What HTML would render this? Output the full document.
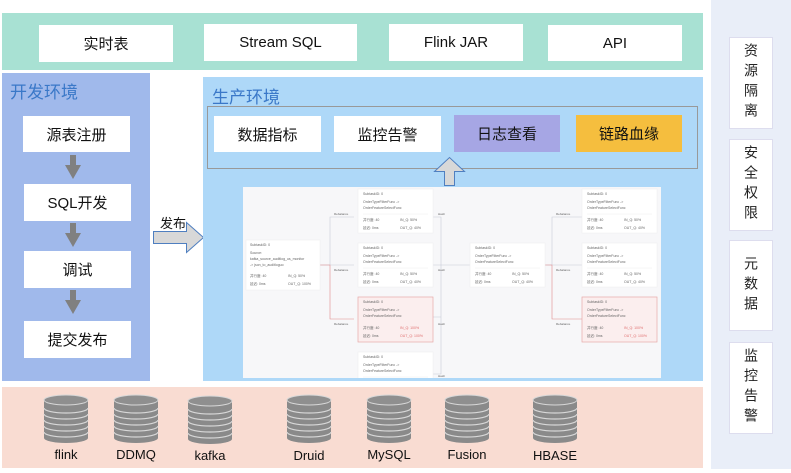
<!DOCTYPE html>
<html><head><meta charset="utf-8"><style>
*{margin:0;padding:0;box-sizing:border-box}
body{width:791px;height:473px;background:#fff;position:relative;overflow:hidden;font-family:"Liberation Sans","Noto Sans CJK SC",sans-serif;}
.a{position:absolute}
.b{position:absolute;background:#fff;display:flex;align-items:center;justify-content:center;font-size:15px;color:#111}
.v{position:absolute;background:#fff;border:1px solid #dde;display:flex;align-items:center;justify-content:center;font-size:14px;color:#222;writing-mode:vertical-rl;letter-spacing:6px}
.t{position:absolute;font-size:17px;color:#3a78c8}
.lab{position:absolute;font-size:13px;color:#111;text-align:center;width:70px}
</style></head><body>
<div class="a" style="left:711px;top:0;width:80px;height:469px;background:#e9eef8"></div>
<div class="v" style="left:729px;top:37px;width:44px;height:92px">资源隔离</div>
<div class="v" style="left:729px;top:139px;width:44px;height:92px">安全权限</div>
<div class="v" style="left:729px;top:240px;width:44px;height:91px">元数据</div>
<div class="v" style="left:729px;top:342px;width:44px;height:92px">监控告警</div>

<div class="a" style="left:2px;top:13px;width:701px;height:57px;background:#a8e1d3"></div>
<div class="b" style="left:39px;top:25px;width:134px;height:37px">实时表</div>
<div class="b" style="left:204px;top:24px;width:153px;height:37px">Stream SQL</div>
<div class="b" style="left:389px;top:24px;width:134px;height:37px">Flink JAR</div>
<div class="b" style="left:548px;top:25px;width:134px;height:36px">API</div>

<div class="a" style="left:2px;top:73px;width:148px;height:308px;background:#a0b9eb"></div>
<div class="t" style="left:10px;top:78px">开发环境</div>
<div class="b" style="left:23px;top:116px;width:107px;height:36px">源表注册</div>
<div class="b" style="left:24px;top:184px;width:107px;height:37px">SQL开发</div>
<div class="b" style="left:24px;top:251px;width:107px;height:37px">调试</div>
<div class="b" style="left:24px;top:321px;width:107px;height:37px">提交发布</div>
<svg class="a" style="left:0;top:0" width="160" height="400">
<g fill="#808080">
<path d="M70 155h6v10h5l-8 14-8-14h5z"/>
<path d="M70 223h6v10h5l-8 14-8-14h5z"/>
<path d="M70 290h6v10h5l-8 14-8-14h5z"/>
</g></svg>

<div class="a" style="left:160px;top:213px;font-size:13px;color:#111">发布</div>
<svg class="a" style="left:150px;top:220px" width="60" height="40">
<path d="M3.5 11.5h33v-9l17 15-17 15v-9h-33z" fill="#d8d8d8" stroke="#4f7fc0" stroke-width="1"/>
</svg>

<div class="a" style="left:203px;top:77px;width:500px;height:304px;background:#aed8f8"></div>
<div class="t" style="left:212px;top:83px">生产环境</div>
<div class="a" style="left:207px;top:106px;width:491px;height:63px;border:1px solid #999"></div>
<div class="b" style="left:214px;top:116px;width:107px;height:36px">数据指标</div>
<div class="b" style="left:334px;top:116px;width:107px;height:36px">监控告警</div>
<div class="b" style="left:454px;top:115px;width:106px;height:37px;background:#a6a6e4">日志查看</div>
<div class="b" style="left:576px;top:115px;width:106px;height:37px;background:#f5be3e">链路血缘</div>
<svg class="a" style="left:428px;top:155px" width="40" height="32">
<path d="M16.5 30.5v-14h-10l15-14 15 14h-10v14z" fill="#d8d8d8" stroke="#4f7fc0" stroke-width="1"/>
</svg>

<svg class="a" style="left:243px;top:187px" width="418" height="191" font-family="Liberation Sans, Noto Sans CJK SC, sans-serif" font-size="3.5" fill="#666">
<defs>
<g id="n">
<rect x="0" y="0" width="75" height="44" fill="#fff" stroke="#eee" stroke-width="0.5"/>
<text x="5" y="6">SubtaskID: 0</text><text x="5" y="14">OrderTypeFilterFunc -&gt;</text><text x="5" y="20">OrderFeatureSelectFunc</text>
<line x1="5" y1="25" x2="70" y2="25" stroke="#eee" stroke-width="0.5"/>
<text x="5" y="32">并行度: 40</text><text x="42" y="32">IN_Q: 50%</text><text x="5" y="40">延迟: 0ms</text><text x="42" y="40">OUT_Q: 40%</text>
</g>
<g id="r">
<rect x="0" y="0" width="75" height="45" fill="#fbeeee" stroke="#e6a8a8" stroke-width="0.7"/>
<text x="5" y="6">SubtaskID: 0</text><text x="5" y="14">OrderTypeFilterFunc -&gt;</text><text x="5" y="20">OrderFeatureSelectFunc</text>
<text x="5" y="32">并行度: 40</text><text x="42" y="32" fill="#e07070">IN_Q: 100%</text><text x="5" y="40">延迟: 0ms</text><text x="42" y="40" fill="#e07070">OUT_Q: 100%</text>
</g>
</defs>
<rect width="418" height="191" fill="#f7f7f9"/>
<g fill="none" stroke="#c8cbd8" stroke-width="0.6">
<path d="M77 78h10v-48h24M87 78h24M190 30h8v100M190 78h37M190 130h8M190 187h8v-57M301 78h8v-48h30M309 78h30"/>
</g>
<g fill="none" stroke="#e08a8a" stroke-width="0.6"><path d="M77 78h10v54h24M301 78h8v54h30"/></g>
<g font-size="3">
<text x="91" y="28">Rebalance</text><text x="91" y="84">Rebalance</text><text x="91" y="138">Rebalance</text>
<text x="195" y="28">Hash</text><text x="195" y="84">Hash</text><text x="195" y="138">Hash</text><text x="195" y="190">Hash</text>
<text x="313" y="28">Rebalance</text><text x="313" y="84">Rebalance</text><text x="313" y="138">Rebalance</text>
</g>
<g>
<rect x="3" y="53" width="74" height="50" fill="#fff" stroke="#eee" stroke-width="0.5"/>
<text x="7" y="59">SubtaskID: 0</text><text x="7" y="67">Source:</text><text x="7" y="73">kafka_source_auditlog_us_monitor</text><text x="7" y="79">-&gt; json_to_auditloguo</text>
<text x="7" y="90">并行度: 40</text><text x="45" y="90">IN_Q: 50%</text><text x="7" y="98">延迟: 0ms</text><text x="45" y="98">OUT_Q: 100%</text>
</g>
<use href="#n" x="115" y="2"/><use href="#n" x="115" y="56"/><use href="#n" x="227" y="56"/>
<use href="#n" x="339" y="2"/><use href="#n" x="339" y="56"/><use href="#n" x="115" y="165"/>
<use href="#r" x="115" y="110"/><use href="#r" x="339" y="110"/>
</svg>

<div class="a" style="left:2px;top:387px;width:701px;height:81px;background:#f9dcd2"></div>
<svg class="a" style="left:0;top:380px" width="710" height="93">
<defs><g id="c">
<rect x="-22" y="4" width="44" height="38" fill="#8a8a8a"/>
<ellipse cx="0" cy="42" rx="22" ry="5" fill="#8a8a8a"/>
<g fill="none" stroke="#d8d8d8" stroke-width="1.2">
<path d="M-22 12a22 5 0 0 0 44 0M-22 18a22 5 0 0 0 44 0M-22 24a22 5 0 0 0 44 0M-22 30a22 5 0 0 0 44 0M-22 36a22 5 0 0 0 44 0"/>
</g>
<ellipse cx="0" cy="4" rx="22" ry="5" fill="#8f8f8f" stroke="#d8d8d8" stroke-width="1"/>
</g></defs>
<use href="#c" x="66" y="16"/><use href="#c" x="136" y="16"/><use href="#c" x="210" y="17"/>
<use href="#c" x="309" y="16"/><use href="#c" x="389" y="16"/><use href="#c" x="467" y="16"/><use href="#c" x="555" y="16"/>
</svg>
<div class="lab" style="left:31px;top:447px">flink</div>
<div class="lab" style="left:101px;top:447px">DDMQ</div>
<div class="lab" style="left:175px;top:448px">kafka</div>
<div class="lab" style="left:274px;top:448px">Druid</div>
<div class="lab" style="left:354px;top:447px">MySQL</div>
<div class="lab" style="left:432px;top:447px">Fusion</div>
<div class="lab" style="left:520px;top:448px">HBASE</div>
</body></html>
